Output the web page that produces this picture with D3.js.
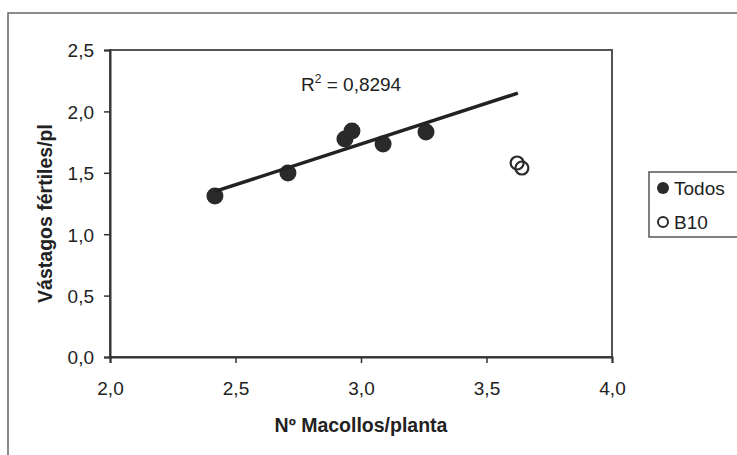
<!DOCTYPE html>
<html>
<head>
<meta charset="utf-8">
<script src="https://cdn.jsdelivr.net/npm/d3@7"></script>
<style>
  body { margin: 0; background: #fff; }
  svg { display: block; font-family: "Liberation Sans", Arial, sans-serif; }
  .tick-label { font-size: 19px; fill: #222; }
  .axis-title { font-size: 19.5px; font-weight: bold; fill: #222; }
</style>
</head>
<body>
<svg></svg>
<script>
// data
const todosX = [2.418, 2.709, 2.936, 2.964, 3.088, 3.259];
const todosY = [1.311, 1.498, 1.775, 1.840, 1.735, 1.832];
const b10X = [3.622, 3.641];
const b10Y = [1.580, 1.539];
const xTicks = [2.0, 2.5, 3.0, 3.5, 4.0];
const yTicks = [0.0, 0.5, 1.0, 1.5, 2.0, 2.5];
const trendRange = [2.418, 3.625];
const r2Text = "0,8294";
const seriesNames = ["Todos", "B10"];

const svg = d3.select("svg").attr("width", 737).attr("height", 455);

const fmt = (d) => d3.format(".1f")(d).replace(".", ",");

// plot area
const plotL = 110, plotR = 612, plotT = 50, plotB = 357;

const x = d3.scaleLinear().domain([2, 4]).range([plotL, plotR]);
const y = d3.scaleLinear().domain([0, 2.5]).range([plotB, plotT]);

// outer frame (cut by the picture edge on the right and bottom)
svg.append("rect")
  .attr("x", 8).attr("y", 13)
  .attr("width", 760).attr("height", 470)
  .attr("fill", "none").attr("stroke", "#666").attr("stroke-width", 1.5);

// plot border
svg.append("rect")
  .attr("x", plotL).attr("y", plotT)
  .attr("width", plotR - plotL).attr("height", plotB - plotT)
  .attr("fill", "none").attr("stroke", "#555").attr("stroke-width", 2);

// axes
const xAxis = svg.append("g")
  .attr("transform", `translate(0,${plotB})`)
  .call(d3.axisBottom(x).tickValues(xTicks).tickFormat(fmt).tickSize(6).tickPadding(23));
const yAxis = svg.append("g")
  .attr("transform", `translate(${plotL},0)`)
  .call(d3.axisLeft(y).tickValues(yTicks).tickFormat(fmt).tickSize(6).tickPadding(10));

[xAxis, yAxis].forEach((ax) => {
  ax.attr("font-family", null).attr("font-size", null);
  ax.select(".domain").attr("stroke", "#333").attr("stroke-width", 2);
  ax.selectAll(".tick line").attr("stroke", "#333").attr("stroke-width", 1.5);
  ax.selectAll(".tick text").attr("class", "tick-label").attr("fill", null);
});
xAxis.selectAll(".tick text").attr("dy", "0.45em");
yAxis.selectAll(".tick text").attr("dy", "0.36em");

// axis titles
svg.append("text")
  .attr("class", "axis-title")
  .attr("x", (plotL + plotR) / 2)
  .attr("y", 432)
  .attr("text-anchor", "middle")
  .text("Nº Macollos/planta");

svg.append("text")
  .attr("class", "axis-title")
  .attr("transform", `translate(52,${(plotT + plotB) / 2 + 10}) rotate(-90)`)
  .attr("text-anchor", "middle")
  .text("Vástagos fértiles/pl");

// points
const todos = todosX.map((d, i) => ({ x: d, y: todosY[i] }));
const b10 = b10X.map((d, i) => ({ x: d, y: b10Y[i] }));

svg.selectAll("circle.todos")
  .data(todos)
  .enter()
  .append("circle")
  .attr("class", "todos")
  .attr("cx", (d) => x(d.x))
  .attr("cy", (d) => y(d.y))
  .attr("r", 8.5)
  .attr("fill", "#2a2a2a");

svg.selectAll("circle.b10")
  .data(b10)
  .enter()
  .append("circle")
  .attr("class", "b10")
  .attr("cx", (d) => x(d.x))
  .attr("cy", (d) => y(d.y))
  .attr("r", 6.5)
  .attr("fill", "none")
  .attr("stroke", "#2a2a2a")
  .attr("stroke-width", 2.2);

// linear trendline fitted on Todos
const mx = d3.mean(todosX), my = d3.mean(todosY);
const slope = d3.sum(todos, (d) => (d.x - mx) * (d.y - my)) / d3.sum(todos, (d) => (d.x - mx) ** 2);
const intercept = my - slope * mx;

const lineGenerator = d3.line()
  .x((d) => x(d))
  .y((d) => y(intercept + slope * d));

svg.append("path")
  .datum(trendRange)
  .attr("d", lineGenerator)
  .attr("fill", "none")
  .attr("stroke", "#222")
  .attr("stroke-width", 3.5);

// R² label
const r2 = svg.append("text")
  .attr("class", "tick-label")
  .attr("x", 301)
  .attr("y", 91);
r2.append("tspan").text("R");
r2.append("tspan").attr("dy", -8).attr("font-size", 12).text("2");
r2.append("tspan").attr("dy", 8).text(" = " + r2Text);

// legend
const legend = svg.append("g").attr("transform", "translate(649,172)");
legend.append("rect")
  .attr("width", 100).attr("height", 65)
  .attr("fill", "#fff").attr("stroke", "#555").attr("stroke-width", 1.5);

const items = legend.selectAll("g.item")
  .data(seriesNames)
  .enter()
  .append("g")
  .attr("class", "item")
  .attr("transform", (d, i) => `translate(0, ${16 + i * 34})`);

items.append("circle")
  .attr("cx", 14)
  .attr("r", (d, i) => (i === 0 ? 6 : 5))
  .attr("fill", (d, i) => (i === 0 ? "#2a2a2a" : "none"))
  .attr("stroke", "#2a2a2a")
  .attr("stroke-width", (d, i) => (i === 0 ? 0 : 2));

items.append("text")
  .attr("class", "tick-label")
  .attr("x", 25)
  .attr("dy", "0.36em")
  .text((d) => d);
</script>
</body>
</html>
